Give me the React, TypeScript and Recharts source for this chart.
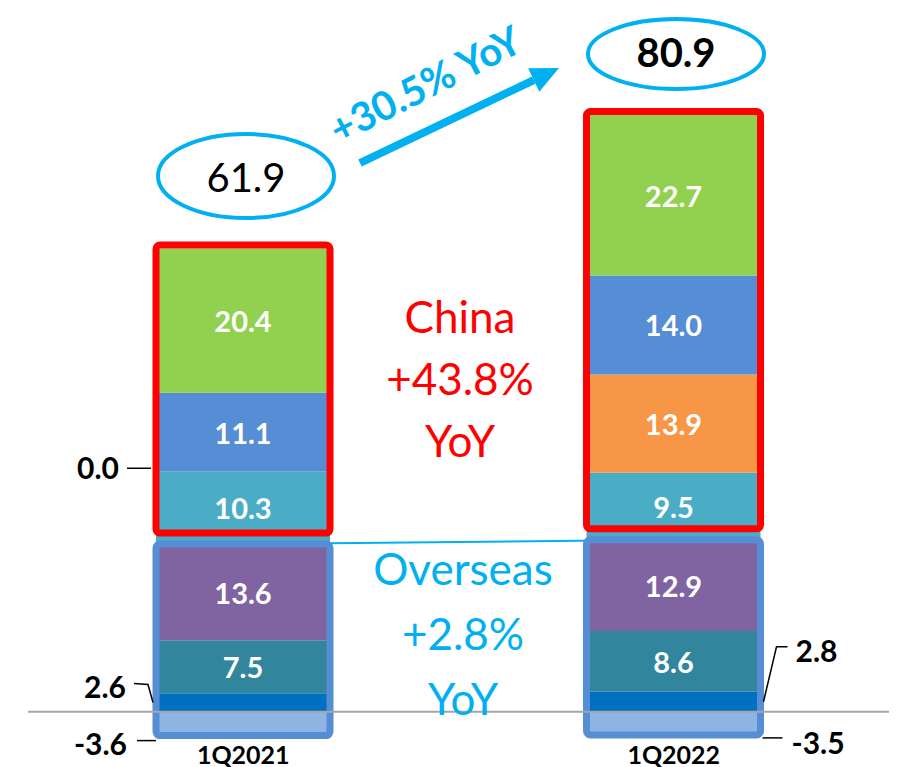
import { BarChart, Bar, XAxis, YAxis, ReferenceLine, LabelList } from "recharts";

const QUARTERS = ["1Q2021", "1Q2022"];

// overseas segments, bottom up
const overseasOther = [-3.6, -3.5];
const overseasSmall = [2.6, 2.8];
const overseasMid = [7.5, 8.6];
const overseasLarge = [13.6, 12.9];

// china segments, bottom up
const chinaA = [10.3, 9.5];
const chinaB = [0.0, 13.9];
const chinaC = [11.1, 14.0];
const chinaD = [20.4, 22.7];

const SERIES = [
  { key: "overseasOther", values: overseasOther, color: "#8EB4E3" },
  { key: "overseasSmall", values: overseasSmall, color: "#0070C0" },
  { key: "overseasMid", values: overseasMid, color: "#31859C" },
  { key: "overseasLarge", values: overseasLarge, color: "#8064A2" },
  { key: "chinaA", values: chinaA, color: "#4BACC6" },
  { key: "chinaB", values: chinaB, color: "#F79646" },
  { key: "chinaC", values: chinaC, color: "#558ED5" },
  { key: "chinaD", values: chinaD, color: "#92D050" },
];

const CHINA_KEYS = ["chinaA", "chinaB", "chinaC", "chinaD"];
const OVERSEAS_POS_KEYS = ["overseasSmall", "overseasMid", "overseasLarge"];

const FONT = "Lato, 'Open Sans', sans-serif";
const CYAN = "#00B0F0";

const sumAt = (keys: string[], i: number) =>
  keys.reduce((s, k) => s + (SERIES.find((x) => x.key === k)!.values[i]), 0);

const data = QUARTERS.map((q, i) => {
  const row: Record<string, any> = { quarter: q };
  SERIES.forEach((s) => (row[s.key] = s.values[i]));
  const overseasTop = sumAt(OVERSEAS_POS_KEYS, i);
  const chinaTop = overseasTop + sumAt(CHINA_KEYS, i);
  row.chinaBox = [overseasTop, chinaTop];
  row.overseasBox = [overseasOther[i], overseasTop];
  return row;
});

const totals = QUARTERS.map((_, i) => SERIES.reduce((s, x) => s + x.values[i], 0));

const box = (p: any) => {
  const vb = p.viewBox ?? p;
  const top = Math.min(vb.y, vb.y + vb.height);
  const bottom = Math.max(vb.y, vb.y + vb.height);
  return { x: vb.x, w: vb.width, top, bottom, cy: (top + bottom) / 2 };
};

const ValueLabel = (props: any) => {
  const { value } = props;
  if (!value) return null;
  const b = box(props);
  return (
    <text
      x={b.x + b.w / 2}
      y={b.cy}
      textAnchor="middle"
      dominantBaseline="central"
      fill="#fff"
      fontFamily={FONT}
      fontWeight="bold"
      fontSize={29}
    >
      {Number(value).toFixed(1)}
    </text>
  );
};

const sideText = {
  fontFamily: FONT,
  fontWeight: "bold" as const,
  fontSize: 30,
  fill: "#000",
  dominantBaseline: "central" as const,
};

// small segments get their value outside the bar with a leader line
const SmallLabel = (props: any) => {
  const { value, index } = props;
  const b = box(props);
  const txt = Number(value).toFixed(1);
  const right = b.x + b.w;
  if (value > 0) {
    if (index === 0) {
      return (
        <g>
          <polyline
            points={`${b.x - 22},${b.cy - 19} ${b.x - 8},${b.cy - 18} ${b.x - 3},${b.cy}`}
            fill="none"
            stroke="#000"
            strokeWidth={1.5}
          />
          <text x={b.x - 30} y={b.cy - 16} textAnchor="end" {...sideText}>
            {txt}
          </text>
        </g>
      );
    }
    return (
      <g>
        <polyline
          points={`${right + 3},${b.cy} ${right + 16},${b.cy - 55} ${right + 27},${b.cy - 55}`}
          fill="none"
          stroke="#000"
          strokeWidth={1.5}
        />
        <text x={right + 35} y={b.cy - 52} textAnchor="start" {...sideText}>
          {txt}
        </text>
      </g>
    );
  }
  if (index === 0) {
    return (
      <g>
        <line x1={b.x - 19} x2={b.x} y1={b.bottom + 3.5} y2={b.bottom + 3.5} stroke="#000" strokeWidth={1.5} />
        <text x={b.x - 29} y={b.bottom + 6} textAnchor="end" {...sideText}>
          {txt}
        </text>
      </g>
    );
  }
  return (
    <g>
      <line x1={right + 2} x2={right + 22} y1={b.bottom + 1.5} y2={b.bottom + 1.5} stroke="#000" strokeWidth={1.5} />
      <text x={right + 31} y={b.bottom + 6} textAnchor="start" {...sideText}>
        {txt}
      </text>
    </g>
  );
};

// a zero-height chinaB segment sits on top of chinaA, so its value is labelled there
const ChinaALabel = (props: any) => {
  const b = box(props);
  const zero = chinaB[props.index] === 0;
  return (
    <g>
      <ValueLabel {...props} />
      {zero && (
        <g>
          <line x1={b.x - 29} x2={b.x - 5} y1={b.top - 3} y2={b.top - 3} stroke="#000" strokeWidth={1.5} />
          <text x={b.x - 37} y={b.top - 4} textAnchor="end" {...sideText}>
            {chinaB[props.index].toFixed(1)}
          </text>
        </g>
      )}
    </g>
  );
};

const outline = (stroke: string, padTop: number, padBottom: number) => (p: any) => {
  const top = Math.min(p.y, p.y + p.height) - padTop;
  const bottom = Math.max(p.y, p.y + p.height) - padBottom;
  return (
    <rect
      x={p.x}
      y={top}
      width={p.width}
      height={bottom - top}
      rx={4}
      fill="none"
      stroke={stroke}
      strokeWidth={7}
    />
  );
};

const QuarterTick = ({ x, y, payload }: any) => (
  <text x={x} y={y + 9} textAnchor="middle" fontFamily={FONT} fontWeight="bold" fontSize={25} fill="#000">
    {payload.value}
  </text>
);

const BAR = 174;

const Annotations = () => {
  const tail = { x: 360, y: 163 };
  const tip = { x: 559, y: 68 };
  const dx = tip.x - tail.x;
  const dy = tip.y - tail.y;
  const len = Math.hypot(dx, dy);
  const ux = dx / len;
  const uy = dy / len;
  const headLen = 28;
  const headHalf = 13;
  const bx = tip.x - ux * headLen;
  const by = tip.y - uy * headLen;
  const nx = -uy;
  const ny = ux;
  const china = ["China", "+43.8%", "YoY"];
  const overseas = ["Overseas", "+2.8%", "YoY"];
  return (
    <svg width={900} height={767} style={{ position: "absolute", left: 0, top: 0, pointerEvents: "none" }}>
      <ellipse cx={246} cy={176} rx={88} ry={42} fill="#fff" stroke={CYAN} strokeWidth={4} />
      <text x={246} y={177} textAnchor="middle" dominantBaseline="central" fontFamily={FONT} fontSize={40} fill="#000">
        {totals[0].toFixed(1)}
      </text>
      <ellipse cx={676} cy={54} rx={88} ry={35} fill="#fff" stroke={CYAN} strokeWidth={4} />
      <text
        x={676}
        y={52}
        textAnchor="middle"
        dominantBaseline="central"
        fontFamily={FONT}
        fontWeight="bold"
        fontSize={40}
        fill="#000"
      >
        {totals[1].toFixed(1)}
      </text>

      <line x1={tail.x} y1={tail.y} x2={bx} y2={by} stroke={CYAN} strokeWidth={8} />
      <polygon
        points={`${tip.x},${tip.y} ${bx + nx * headHalf},${by + ny * headHalf} ${bx - nx * headHalf},${by - ny * headHalf}`}
        fill={CYAN}
      />
      <text
        x={425}
        y={84}
        textAnchor="middle"
        dominantBaseline="central"
        transform="rotate(-27 425 84)"
        fontFamily={FONT}
        fontWeight="bold"
        fontSize={40}
        fill={CYAN}
      >
        +30.5% YoY
      </text>

      {china.map((t, i) => (
        <text key={t} x={460} y={333 + i * 62} textAnchor="middle" fontFamily={FONT} fontSize={44} fill="#FF0000">
          {t}
        </text>
      ))}
      {overseas.map((t, i) => (
        <text key={t} x={463} y={585 + i * 65} textAnchor="middle" fontFamily={FONT} fontSize={44} fill={CYAN}>
          {t}
        </text>
      ))}
    </svg>
  );
};

export default function App() {
  const labelFor = (key: string) => {
    if (key === "overseasOther" || key === "overseasSmall") return SmallLabel;
    if (key === "chinaA") return ChinaALabel;
    return ValueLabel;
  };

  return (
    <div style={{ position: "absolute", left: 0, top: 0, width: 900, height: 767, background: "#fff" }}>
      <BarChart
        width={900}
        height={767}
        data={data}
        stackOffset="sign"
        margin={{ top: 40, right: 11, left: 28, bottom: 0 }}
      >
        <XAxis dataKey="quarter" axisLine={false} tickLine={false} height={20} tick={<QuarterTick />} interval={0} />
        <XAxis xAxisId="chinaBox" dataKey="quarter" hide />
        <XAxis xAxisId="overseasBox" dataKey="quarter" hide />
        <YAxis type="number" domain={[-5, 95]} hide />
        <ReferenceLine
          zIndex={50}
          segment={[
            { x: QUARTERS[0], y: data[0].overseasBox[1] },
            { x: QUARTERS[1], y: data[1].overseasBox[1] },
          ]}
          stroke={CYAN}
          strokeWidth={2}
        />
        {SERIES.map((s) => (
          <Bar key={s.key} dataKey={s.key} stackId="rev" fill={s.color} barSize={BAR} isAnimationActive={false}>
            <LabelList dataKey={s.key} content={labelFor(s.key)} />
          </Bar>
        ))}
        <Bar
          xAxisId="overseasBox"
          dataKey="overseasBox"
          barSize={BAR}
          shape={outline("#558ED5", 0, 1.5)}
          isAnimationActive={false}
        />
        <Bar
          xAxisId="chinaBox"
          dataKey="chinaBox"
          barSize={BAR}
          shape={outline("#FF0000", 3.5, 11)}
          isAnimationActive={false}
        />
        <ReferenceLine y={0} stroke="#A6A6A6" strokeWidth={2} />
      </BarChart>
      <Annotations />
    </div>
  );
}
